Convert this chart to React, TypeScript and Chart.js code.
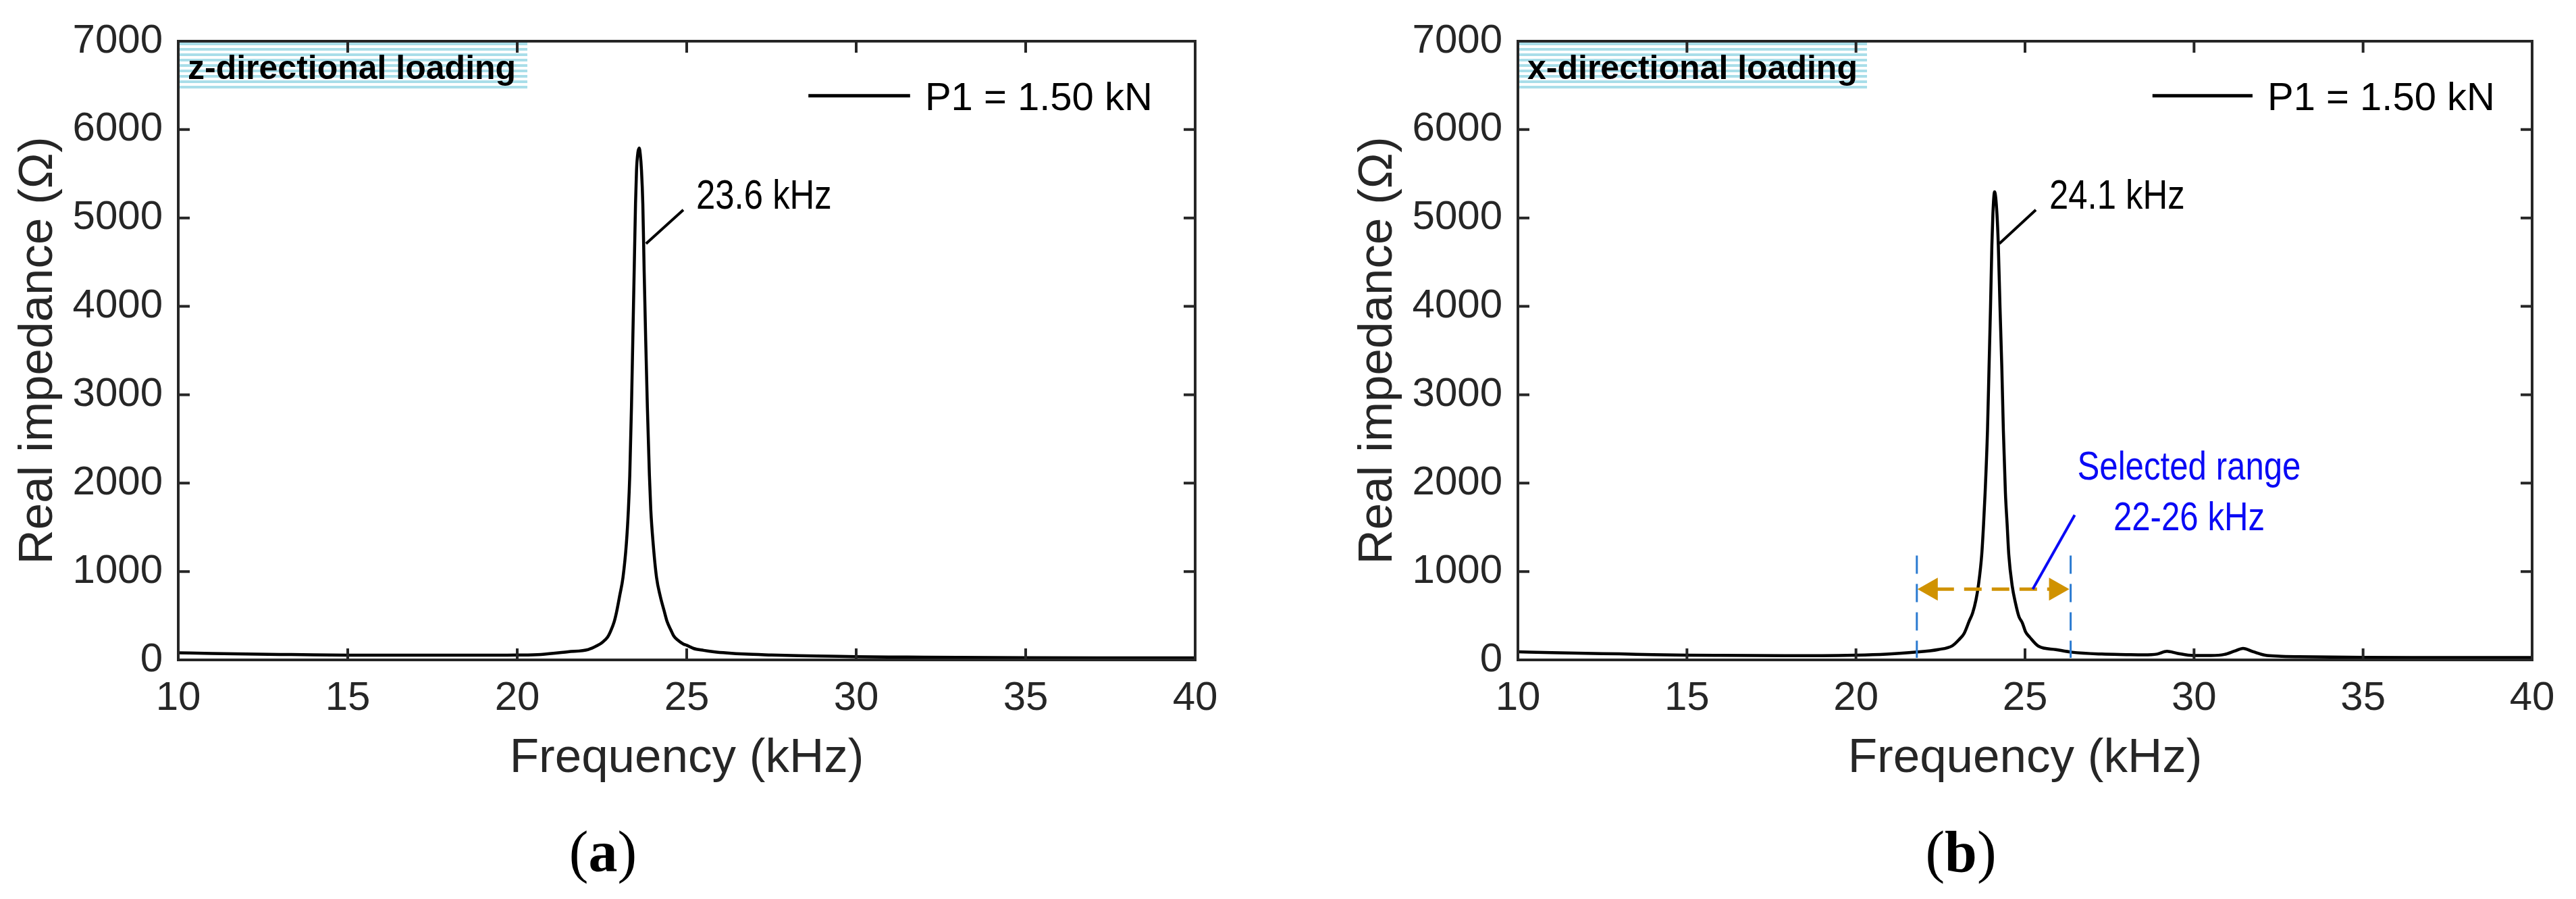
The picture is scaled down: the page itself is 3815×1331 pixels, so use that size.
import React, { useEffect, useRef } from "react";
import { Chart, registerables } from "chart.js";

Chart.register(...registerables);

// ---------------- data ----------------
const xTickValues = [10, 15, 20, 25, 30, 35, 40];
const yTickValues = [0, 1000, 2000, 3000, 4000, 5000, 6000, 7000];

const freqA = [10, 11, 12, 13, 14, 15, 16, 17, 18, 19, 20, 20.7, 21.5, 22.1, 22.35, 22.5, 22.67, 22.75, 22.86, 22.93, 23.02, 23.12, 23.22, 23.28, 23.32, 23.37, 23.41, 23.45, 23.49, 23.52, 23.56, 23.6, 23.63, 23.665, 23.705, 23.745, 23.79, 23.84, 23.9, 23.94, 24.01, 24.11, 24.22, 24.34, 24.42, 24.53, 24.62, 24.75, 24.9, 25.0, 25.2, 25.5, 25.8, 26.2, 26.7, 27.5, 28.3, 29.2, 30, 31.5, 33, 35, 37.5, 40];
const impA = [80, 73, 67, 62, 57, 54, 53, 53, 53, 53, 55, 62, 92, 118, 160, 195, 260, 320, 430, 540, 720, 932, 1317, 1701, 2086, 2855, 3624, 4393, 5162, 5546, 5740, 5790, 5720, 5546, 5162, 4393, 3624, 2855, 2086, 1701, 1317, 932, 720, 547, 435, 340, 270, 220, 180, 165, 130, 108, 92, 78, 66, 56, 48, 42, 36, 32, 28, 24, 22, 22];

const freqB = [10, 11, 12, 13, 14, 15, 16, 17, 18, 19, 20, 20.9, 21.75, 22.43, 22.85, 23.05, 23.2, 23.35, 23.45, 23.55, 23.62, 23.72, 23.775, 23.82, 23.89, 23.935, 23.98, 24.02, 24.05, 24.1, 24.17, 24.21, 24.26, 24.315, 24.36, 24.42, 24.47, 24.52, 24.62, 24.72, 24.82, 24.92, 25.02, 25.14, 25.4, 25.91, 26.39, 27.27, 28.0, 28.5, 28.91, 29.2, 29.5, 29.98, 30.5, 30.9, 31.2, 31.45, 31.75, 32.1, 32.5, 33.1, 35, 37.5, 40];
const impB = [92, 82, 74, 68, 60, 54, 51, 49, 48, 48, 53, 65, 87, 117, 160, 230, 300, 440, 530, 680, 840, 1191, 1542, 1892, 2593, 3294, 3995, 4696, 5047, 5295, 5047, 4696, 3995, 3294, 2593, 1892, 1542, 1191, 840, 640, 490, 420, 315, 257, 155, 117, 87, 66, 60, 57, 66, 97, 75, 50, 50, 62, 100, 130, 92, 53, 42, 36, 28, 27, 26];

const seriesLabel = "P1 = 1.50 kN";
const xTitle = "Frequency (kHz)";
const yTitle = "Real impedance (\u03A9)";
const rangeLabel = ["Selected range", "22-26 kHz"];
const rangeBounds = [21.8, 26.35];
const rangeTop = 1180;
const rangeArrowY = 800;

// ---------------- styles ----------------
const SANS = "'Liberation Sans', Arial, Helvetica, sans-serif";
const AXIS_COLOR = "#262626";
const W = 3815;
const H = 1331;

type Panel = {
  left: number;
  width: number;
  yAxisWidth: number;
  padRight: number;
  yTitlePad: number;
  freq: number[];
  imp: number[];
  boxText: string;
  peakText: string;
  leader: number[][];
  peakTextPos: number[];
  legendX: number[];
  legendY: number;
  range: boolean;
};

const panels: Panel[] = [
  {
    left: 0,
    width: 1907,
    yAxisWidth: 264,
    padRight: 1907 - 1770,
    yTitlePad: 15,
    freq: freqA,
    imp: impA,
    boxText: "z-directional loading",
    peakText: "23.6 kHz",
    leader: [[23.8, 4710], [24.9, 5092]],
    peakTextPos: [25.28, 5106],
    legendX: [28.59, 31.59, 32.03],
    legendY: 6382,
    range: false,
  },
  {
    left: 1907,
    width: 1908,
    yAxisWidth: 2248 - 1907,
    padRight: 1908 - (3750 - 1907),
    yTitlePad: 92,
    freq: freqB,
    imp: impB,
    boxText: "x-directional loading",
    peakText: "24.1 kHz",
    leader: [[24.24, 4710], [25.32, 5092]],
    peakTextPos: [25.72, 5106],
    legendX: [28.77, 31.73, 32.17],
    legendY: 6382,
    range: true,
  },
];

function narrowText(ctx: CanvasRenderingContext2D, text: string, x: number, y: number, size: number, align: "left" | "center", color: string) {
  ctx.save();
  ctx.font = `${size}px ${SANS}`;
  ctx.fillStyle = color;
  ctx.textBaseline = "alphabetic";
  ctx.textAlign = "left";
  const sx = 0.82;
  const w = ctx.measureText(text).width * sx;
  const x0 = align === "center" ? x - w / 2 : x;
  ctx.translate(x0, y);
  ctx.scale(sx, 1);
  ctx.fillText(text, 0, 0);
  ctx.restore();
}

function makeDecor(p: Panel) {
  return {
    id: "decor",
    afterDraw(chart: any) {
      const { ctx, chartArea: a } = chart;
      const xs = chart.scales.x;
      const ys = chart.scales.y;
      const px = (v: number) => xs.getPixelForValue(v);
      const py = (v: number) => ys.getPixelForValue(v);
      ctx.save();

      if (p.range) {
        const x1 = px(rangeBounds[0]);
        const x2 = px(rangeBounds[1]);
        ctx.strokeStyle = "#2B7BD1";
        ctx.lineWidth = 3;
        ctx.setLineDash([27, 15]);
        for (const xx of [x1, x2]) {
          ctx.beginPath();
          ctx.moveTo(xx, py(rangeTop));
          ctx.lineTo(xx, py(0) - 3);
          ctx.stroke();
        }
        const ay = py(rangeArrowY);
        ctx.strokeStyle = "#D09200";
        ctx.lineWidth = 5;
        ctx.setLineDash([26, 15]);
        ctx.beginPath();
        ctx.moveTo(x1 + 29, ay);
        ctx.lineTo(x2 - 29, ay);
        ctx.stroke();
        ctx.setLineDash([]);
        ctx.fillStyle = "#D09200";
        ctx.beginPath();
        ctx.moveTo(x1 + 1, ay);
        ctx.lineTo(x1 + 31, ay - 17);
        ctx.lineTo(x1 + 31, ay + 17);
        ctx.closePath();
        ctx.fill();
        ctx.beginPath();
        ctx.moveTo(x2 - 2, ay);
        ctx.lineTo(x2 - 32, ay - 17);
        ctx.lineTo(x2 - 32, ay + 17);
        ctx.closePath();
        ctx.fill();
        ctx.strokeStyle = "#0A0AF5";
        ctx.lineWidth = 4;
        ctx.beginPath();
        ctx.moveTo(px(25.23), py(800));
        ctx.lineTo(px(26.47), py(1640));
        ctx.stroke();
        const cx = 3242 - p.left;
        narrowText(ctx, rangeLabel[0], cx, 710, 60, "center", "#0A0AF5");
        narrowText(ctx, rangeLabel[1], cx, 785, 60, "center", "#0A0AF5");
      }

      ctx.strokeStyle = "#000";
      ctx.lineWidth = 4;
      ctx.setLineDash([]);
      ctx.beginPath();
      ctx.moveTo(px(p.leader[0][0]), py(p.leader[0][1]));
      ctx.lineTo(px(p.leader[1][0]), py(p.leader[1][1]));
      ctx.stroke();
      narrowText(ctx, p.peakText, px(p.peakTextPos[0]), py(p.peakTextPos[1]), 62, "left", "#000");

      const ly = py(p.legendY);
      ctx.strokeStyle = "#000";
      ctx.lineWidth = 5;
      ctx.beginPath();
      ctx.moveTo(px(p.legendX[0]), ly);
      ctx.lineTo(px(p.legendX[1]), ly);
      ctx.stroke();
      ctx.fillStyle = "#000";
      ctx.font = `58px ${SANS}`;
      ctx.textAlign = "left";
      ctx.textBaseline = "alphabetic";
      ctx.fillText(chart.data.datasets[0].label, px(p.legendX[2]), ly + 21);

      const bx = a.left;
      const by = a.top + 2;
      const bw = 517;
      const bh = 69;
      ctx.fillStyle = "#ffffff";
      ctx.fillRect(bx, by, bw, bh);
      ctx.fillStyle = "#A9DEE9";
      for (let yy = by; yy < by + bh; yy += 8) {
        ctx.fillRect(bx, yy, bw, Math.min(4, by + bh - yy));
      }
      ctx.fillStyle = "#000";
      ctx.font = `bold 50px ${SANS}`;
      ctx.fillText(p.boxText, bx + 14, by + 54);

      ctx.strokeStyle = AXIS_COLOR;
      ctx.lineWidth = 4;
      ctx.strokeRect(a.left, a.top, a.right - a.left, a.bottom - a.top);
      const tl = 17;
      ctx.beginPath();
      for (const v of xTickValues) {
        const xx = px(v);
        ctx.moveTo(xx, a.bottom);
        ctx.lineTo(xx, a.bottom - tl);
        ctx.moveTo(xx, a.top);
        ctx.lineTo(xx, a.top + tl);
      }
      for (const v of yTickValues) {
        const yy = py(v);
        ctx.moveTo(a.left, yy);
        ctx.lineTo(a.left + tl, yy);
        ctx.moveTo(a.right, yy);
        ctx.lineTo(a.right - tl, yy);
      }
      ctx.stroke();
      ctx.restore();
    },
  };
}

function PanelChart({ p }: { p: Panel }) {
  const ref = useRef<HTMLCanvasElement | null>(null);
  useEffect(() => {
    if (!ref.current) return;
    const chart = new Chart(ref.current, {
      type: "line",
      data: {
        datasets: [
          {
            label: seriesLabel,
            data: p.freq.map((f, i) => ({ x: f, y: p.imp[i] })),
            borderColor: "#000000",
            borderWidth: 4.5,
            pointRadius: 0,
            cubicInterpolationMode: "monotone",
            fill: false,
          },
        ],
      },
      options: {
        animation: false,
        responsive: false,
        maintainAspectRatio: false,
        devicePixelRatio: 1,
        layout: { padding: { left: 0, top: 61, right: p.padRight, bottom: 0 } },
        plugins: { legend: { display: false }, tooltip: { enabled: false }, title: { display: false } },
        scales: {
          x: {
            type: "linear",
            min: 10,
            max: 40,
            afterBuildTicks: (s: any) => {
              s.ticks = xTickValues.map((v) => ({ value: v }));
            },
            afterFit: (s: any) => {
              s.height = 354;
            },
            grid: { display: false, drawTicks: false },
            border: { display: false },
            ticks: {
              font: { family: SANS, size: 60 },
              color: AXIS_COLOR,
              padding: 21,
              maxRotation: 0,
              autoSkip: false,
            },
            title: {
              display: true,
              text: xTitle,
              font: { family: SANS, size: 71 },
              color: AXIS_COLOR,
              padding: { top: 0, bottom: 165 },
            },
          },
          y: {
            type: "linear",
            min: 0,
            max: 7000,
            afterBuildTicks: (s: any) => {
              s.ticks = yTickValues.map((v) => ({ value: v }));
            },
            afterFit: (s: any) => {
              s.width = p.yAxisWidth;
            },
            grid: { display: false, drawTicks: false },
            border: { display: false },
            ticks: {
              font: { family: SANS, size: 60 },
              color: AXIS_COLOR,
              padding: 23,
              autoSkip: false,
              callback: (v: any) => String(v),
            },
            title: {
              display: true,
              text: yTitle,
              font: { family: SANS, size: 71 },
              color: AXIS_COLOR,
              padding: { top: p.yTitlePad, bottom: 0 },
            },
          },
        },
      },
      plugins: [makeDecor(p)],
    } as any);
    return () => chart.destroy();
  }, [p]);
  return (
    <canvas
      ref={ref}
      width={p.width}
      height={H}
      style={{ position: "absolute", left: p.left, top: 0, width: p.width, height: H }}
    />
  );
}

const captionStyle = (center: number): React.CSSProperties => ({
  position: "absolute",
  left: center - 200,
  top: 1218,
  width: 400,
  textAlign: "center",
  font: "86px 'Liberation Serif', serif",
  lineHeight: "86px",
  color: "#000",
});

export default function App() {
  return (
    <div style={{ position: "absolute", left: 0, top: 0, width: W, height: H, background: "#fff", overflow: "hidden" }}>
      {panels.map((p, i) => (
        <PanelChart key={i} p={p} />
      ))}
      <div style={captionStyle(893)}>
        (<b>a</b>)
      </div>
      <div style={captionStyle(2904)}>
        (<b>b</b>)
      </div>
    </div>
  );
}
